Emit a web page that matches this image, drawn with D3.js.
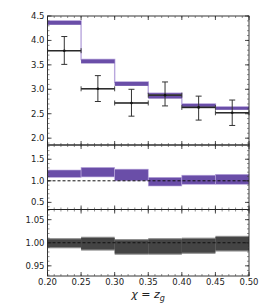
<!DOCTYPE html>
<html>
<head>
<meta charset="utf-8">
<script src="https://cdn.jsdelivr.net/npm/d3@7"></script>
<style>
  body { margin: 0; background: #fff; }
  svg text { font-family: "DejaVu Sans", sans-serif; fill: #222; }
</style>
</head>
<body>
<div id="chart"></div>
<script>
// bin edges in chi = z_g
const edges = [0.20, 0.25, 0.30, 0.35, 0.40, 0.45, 0.50];

// top panel: theory band and data
const theoryLo = [4.32, 3.53, 3.07, 2.81, 2.62, 2.58];
const theoryHi = [4.40, 3.61, 3.15, 2.92, 2.70, 2.64];
const dataVal  = [3.79, 3.01, 2.72, 2.88, 2.63, 2.52];
const dataLo   = [3.51, 2.75, 2.45, 2.66, 2.37, 2.26];
const dataHi   = [4.08, 3.28, 3.00, 3.15, 2.86, 2.78];

// middle panel: theory / data
const ratioLo = [1.08, 1.09, 1.00, 0.88, 0.92, 0.92];
const ratioHi = [1.25, 1.31, 1.27, 1.08, 1.13, 1.15];

// bottom panel: relative data uncertainty
const uncLo = [0.988, 0.983, 0.974, 0.974, 0.976, 0.981];
const uncHi = [1.010, 1.013, 1.008, 1.010, 1.011, 1.015];

const xTicks = [0.20, 0.25, 0.30, 0.35, 0.40, 0.45, 0.50];
const topTicks = [2.0, 2.5, 3.0, 3.5, 4.0, 4.5];
const midTicks = [0.5, 1.0, 1.5];
const botTicks = [0.95, 1.00, 1.05];

const W = 262, H = 306;
const left = 47.5, right = 249;

const svg = d3.select("#chart").append("svg")
  .attr("width", W).attr("height", H);

const x = d3.scaleLinear().domain([0.20, 0.50]).range([left, right]);

const panels = [
  { y0: 16,    y1: 145,   domain: [1.86, 4.5],   ticks: topTicks, minor: 0.1,  fmt: d3.format(".1f") },
  { y0: 145,   y1: 209.5, domain: [0.335, 1.83], ticks: midTicks, minor: 0.1,  fmt: d3.format(".1f") },
  { y0: 209.5, y1: 276,   domain: [0.928, 1.072], ticks: botTicks, minor: 0.01, fmt: d3.format(".2f") }
];
panels.forEach(p => {
  p.y = d3.scaleLinear().domain(p.domain).range([p.y1, p.y0]);
});

const bins = d3.range(edges.length - 1).map(i => ({ a: edges[i], b: edges[i + 1], i }));
const purple = "#6a4ea8", purpleLight = "#b9a7dd";

///////////////////////////////////////////////////////////////////////////
// Panel 1: theory band + data
///////////////////////////////////////////////////////////////////////////
const p1 = panels[0], g1 = svg.append("g");

// light outline step
const stepPts = [];
bins.forEach(d => {
  stepPts.push([d.a, theoryHi[d.i]]);
  stepPts.push([d.b, theoryHi[d.i]]);
});
g1.append("path")
  .attr("d", d3.line().x(d => x(d[0])).y(d => p1.y(d[1])).curve(d3.curveLinear)(stepPts))
  .attr("fill", "none").attr("stroke", purpleLight).attr("stroke-width", 1.4);

g1.selectAll(".band").data(bins).join("rect")
  .attr("x", d => x(d.a)).attr("width", d => x(d.b) - x(d.a))
  .attr("y", d => p1.y(theoryHi[d.i]))
  .attr("height", d => p1.y(theoryLo[d.i]) - p1.y(theoryHi[d.i]))
  .attr("fill", purple);

// data points
const dg = g1.selectAll(".pt").data(bins).join("g");
dg.append("line")
  .attr("x1", d => x(d.a)).attr("x2", d => x(d.b))
  .attr("y1", d => p1.y(dataVal[d.i])).attr("y2", d => p1.y(dataVal[d.i]))
  .attr("stroke", "#555").attr("stroke-width", 1.6);
dg.append("line")
  .attr("x1", d => x(d.a)).attr("x2", d => x(d.b))
  .attr("y1", d => p1.y(dataVal[d.i])).attr("y2", d => p1.y(dataVal[d.i]))
  .attr("stroke", "#111").attr("stroke-width", 0.8);
dg.append("line")
  .attr("x1", d => x((d.a + d.b) / 2)).attr("x2", d => x((d.a + d.b) / 2))
  .attr("y1", d => p1.y(dataLo[d.i])).attr("y2", d => p1.y(dataHi[d.i]))
  .attr("stroke", "#333").attr("stroke-width", 1);
[dataLo, dataHi].forEach(arr => {
  dg.append("line")
    .attr("x1", d => x((d.a + d.b) / 2) - 3).attr("x2", d => x((d.a + d.b) / 2) + 3)
    .attr("y1", d => p1.y(arr[d.i])).attr("y2", d => p1.y(arr[d.i]))
    .attr("stroke", "#333").attr("stroke-width", 1);
});
["a", "b"].forEach(k => {
  dg.append("line")
    .attr("x1", d => x(d[k])).attr("x2", d => x(d[k]))
    .attr("y1", d => p1.y(dataVal[d.i]) - 2.5).attr("y2", d => p1.y(dataVal[d.i]) + 2.5)
    .attr("stroke", "#333").attr("stroke-width", 0.9);
});
dg.append("circle")
  .attr("cx", d => x((d.a + d.b) / 2)).attr("cy", d => p1.y(dataVal[d.i]))
  .attr("r", 1.3).attr("fill", "#111");

///////////////////////////////////////////////////////////////////////////
// Panel 2: ratio band
///////////////////////////////////////////////////////////////////////////
const p2 = panels[1], g2 = svg.append("g");
g2.selectAll("rect").data(bins).join("rect")
  .attr("x", d => x(d.a)).attr("width", d => x(d.b) - x(d.a))
  .attr("y", d => p2.y(ratioHi[d.i]))
  .attr("height", d => p2.y(ratioLo[d.i]) - p2.y(ratioHi[d.i]))
  .attr("fill", purple).attr("stroke", purpleLight).attr("stroke-width", 0.6);
g2.append("line")
  .attr("x1", left).attr("x2", right)
  .attr("y1", p2.y(1)).attr("y2", p2.y(1))
  .attr("stroke", "#111").attr("stroke-width", 1).attr("stroke-dasharray", "3,2");

///////////////////////////////////////////////////////////////////////////
// Panel 3: data uncertainty band
///////////////////////////////////////////////////////////////////////////
const p3 = panels[2], g3 = svg.append("g");
g3.selectAll(".outer").data(bins).join("rect")
  .attr("x", d => x(d.a)).attr("width", d => x(d.b) - x(d.a))
  .attr("y", d => p3.y(uncHi[d.i]))
  .attr("height", d => p3.y(uncLo[d.i]) - p3.y(uncHi[d.i]))
  .attr("fill", "#8a8a8a");
g3.selectAll(".inner").data(bins).join("rect")
  .attr("x", d => x(d.a)).attr("width", d => x(d.b) - x(d.a))
  .attr("y", d => p3.y(uncHi[d.i]) + 1.2)
  .attr("height", d => p3.y(uncLo[d.i]) - p3.y(uncHi[d.i]) - 2.4)
  .attr("fill", "#444");
g3.append("line")
  .attr("x1", left).attr("x2", right)
  .attr("y1", p3.y(1)).attr("y2", p3.y(1))
  .attr("stroke", "#111").attr("stroke-width", 1).attr("stroke-dasharray", "3,2");

///////////////////////////////////////////////////////////////////////////
// Frames, ticks, labels
///////////////////////////////////////////////////////////////////////////
const xMinor = d3.range(0.20, 0.5001, 0.01);
panels.forEach((p, k) => {
  const g = svg.append("g");
  g.append("rect")
    .attr("x", left).attr("y", p.y0)
    .attr("width", right - left).attr("height", p.y1 - p.y0)
    .attr("fill", "none").attr("stroke", "#222").attr("stroke-width", 0.9);

  // y ticks, inward on both sides
  const lo = p.domain[0], hi = p.domain[1];
  const minors = d3.range(Math.ceil(lo / p.minor - 1e-6), Math.floor(hi / p.minor + 1e-6) + 1)
    .map(v => v * p.minor);
  minors.forEach(v => {
    [[left, 1], [right, -1]].forEach(([xx, s]) => {
      g.append("line")
        .attr("x1", xx).attr("x2", xx + s * 2)
        .attr("y1", p.y(v)).attr("y2", p.y(v))
        .attr("stroke", "#444").attr("stroke-width", 0.6);
    });
  });
  p.ticks.forEach(v => {
    [[left, 1], [right, -1]].forEach(([xx, s]) => {
      g.append("line")
        .attr("x1", xx).attr("x2", xx + s * 4)
        .attr("y1", p.y(v)).attr("y2", p.y(v))
        .attr("stroke", "#222").attr("stroke-width", 0.8);
    });
    g.append("text")
      .attr("x", left - 3).attr("y", p.y(v))
      .attr("dy", "0.35em").attr("text-anchor", "end")
      .attr("font-size", "8.5px")
      .text(p.fmt(v));
  });

  // x ticks, inward top and bottom
  xMinor.forEach(v => {
    [[p.y0, 1], [p.y1, -1]].forEach(([yy, s]) => {
      g.append("line")
        .attr("x1", x(v)).attr("x2", x(v))
        .attr("y1", yy).attr("y2", yy + s * 2)
        .attr("stroke", "#444").attr("stroke-width", 0.6);
    });
  });
  xTicks.forEach(v => {
    [[p.y0, 1], [p.y1, -1]].forEach(([yy, s]) => {
      g.append("line")
        .attr("x1", x(v)).attr("x2", x(v))
        .attr("y1", yy).attr("y2", yy + s * 4)
        .attr("stroke", "#222").attr("stroke-width", 0.8);
    });
  });
});

// x tick labels (bottom panel only)
svg.selectAll(".xl").data(xTicks).join("text")
  .attr("x", d => x(d)).attr("y", 285)
  .attr("text-anchor", "middle").attr("font-size", "8.5px")
  .text(d => d.toFixed(2));

// axis title
const title = svg.append("text")
  .attr("x", 148).attr("y", 298)
  .attr("text-anchor", "middle").attr("font-size", "11px")
  .attr("font-style", "italic");
title.append("tspan").text("χ = z");
title.append("tspan").attr("dy", 2.5).attr("font-size", "8px").text("g");
</script>
</body>
</html>
